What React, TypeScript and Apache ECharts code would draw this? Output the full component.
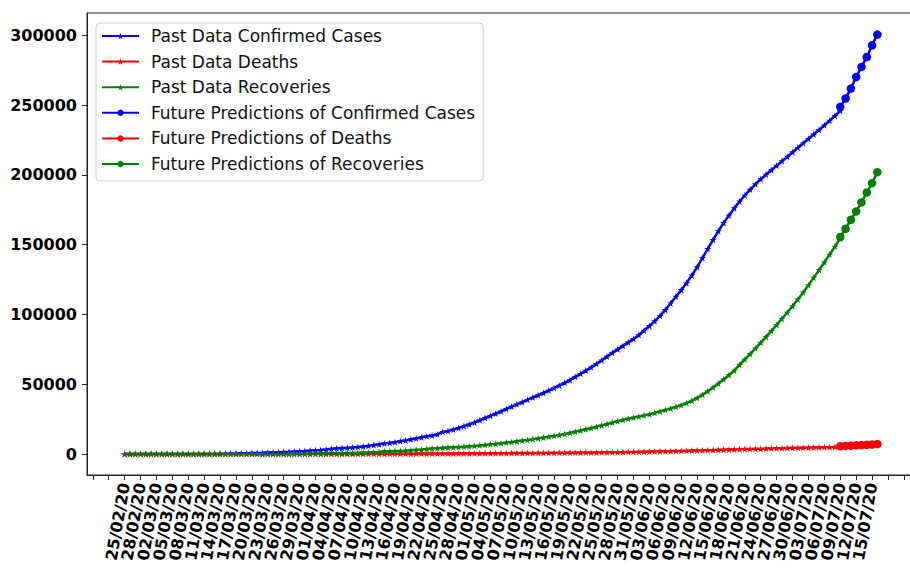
import React, { useEffect, useRef } from "react";
import * as echarts from "echarts";

// Day offsets are counted from 25/02/20 (day 0).
const tickLabels = [
  "25/02/20", "28/02/20", "02/03/20", "05/03/20", "08/03/20", "11/03/20", "14/03/20", "17/03/20",
  "20/03/20", "23/03/20", "26/03/20", "29/03/20", "01/04/20", "04/04/20", "07/04/20", "10/04/20",
  "13/04/20", "16/04/20", "19/04/20", "22/04/20", "25/04/20", "28/04/20", "01/05/20", "04/05/20",
  "07/05/20", "10/05/20", "13/05/20", "16/05/20", "19/05/20", "22/05/20", "25/05/20", "28/05/20",
  "31/05/20", "03/06/20", "06/06/20", "09/06/20", "12/06/20", "15/06/20", "18/06/20", "21/06/20",
  "24/06/20", "27/06/20", "30/06/20", "03/07/20", "06/07/20", "09/07/20", "12/07/20", "15/07/20",
];
const labelStep = 3;
const extraTicks = [-6, -3, 144, 147];
const yTicks = [0, 50000, 100000, 150000, 200000, 250000, 300000];

// Observed daily totals, day 0 .. day 135
const pastConfirmed = [
  0, 0, 0, 2, 2, 4, 4, 5, 5, 6,
  7, 16, 19, 20, 21, 28, 31, 53, 136, 187,
  241, 302, 453, 495, 646, 803, 887, 991, 1057, 1235,
  1495, 1597, 1717, 1938, 2118, 2421, 2686, 2818, 3157, 3766,
  4035, 4263, 4489, 4695, 5038, 5374, 5837, 6383, 6919, 7481,
  7993, 8418, 9216, 9749, 10513, 11155, 11940, 12723, 13328, 14079,
  15800, 16500, 17500, 18700, 19900, 21200, 22600, 24200, 25800, 27400,
  29000, 30600, 32300, 34000, 35600, 37200, 38900, 40500, 42100, 43800,
  45500, 47300, 49100, 51000, 53000, 55300, 57500, 59800, 62100, 64600,
  67200, 69800, 72500, 75000, 77500, 80000, 82500, 85300, 88500, 91800,
  95200, 99000, 103300, 108000, 112800, 117600, 122500, 128000, 134000, 140500,
  147000, 153500, 159800, 165600, 171000, 176200, 181000, 185400, 189500, 193400,
  197000, 200300, 203500, 206700, 209900, 213100, 216300, 219500, 222700, 225900,
  229100, 232300, 235600, 238900, 242300, 246000,
];
const pastDeaths = [
  0, 0, 0, 0, 0, 0, 0, 0, 0, 0,
  0, 0, 0, 0, 0, 0, 0, 0, 0, 0,
  0, 1, 2, 2, 3, 3, 6, 7, 9, 11,
  12, 14, 18, 20, 26, 34, 41, 50, 54, 57,
  61, 63, 66, 71, 80, 91, 107, 128, 143, 159,
  176, 192, 209, 224, 236, 253, 275, 292, 312, 327,
  345, 369, 385, 399, 417, 440, 462, 479, 508, 532,
  564, 585, 611, 636, 659, 685, 706, 737, 770, 803,
  834, 859, 882, 913, 939, 971, 1017, 1067, 1101, 1133,
  1167, 1225, 1260, 1317, 1395, 1483, 1543, 1621, 1688, 1770,
  1838, 1935, 2002, 2067, 2172, 2255, 2356, 2463, 2551, 2632,
  2729, 2839, 2975, 3093, 3195, 3275, 3382, 3501, 3590, 3695,
  3755, 3903, 4035, 4118, 4167, 4304, 4395, 4473, 4551, 4619,
  4712, 4762, 4839, 4922, 5058, 5197,
];
const pastRecovered = [
  0, 0, 0, 0, 0, 0, 0, 0, 0, 0,
  0, 1, 1, 2, 2, 2, 2, 2, 2, 2,
  2, 2, 2, 5, 5, 6, 6, 9, 13, 21,
  25, 50, 60, 80, 120, 140, 170, 220, 340, 460,
  530, 580, 700, 760, 900, 1000, 1100, 1300, 1500, 1900,
  2000, 2100, 2200, 2400, 2700, 3000, 3200, 3600, 4000, 4200,
  4400, 4600, 4800, 5000, 5200, 5500, 5800, 6100, 6500, 6900,
  7300, 7700, 8200, 8600, 9100, 9600, 10100, 10600, 11200, 11800,
  12400, 13000, 13700, 14400, 15200, 16000, 16800, 17700, 18600, 19500,
  20500, 21500, 22500, 23500, 24500, 25300, 26100, 26900, 27700, 28500,
  29500, 30500, 31600, 32600, 33800, 35000, 36500, 38200, 40200, 42500,
  45000, 47700, 50500, 53500, 56600, 59800, 64000, 67800, 71700, 75700,
  79800, 84000, 88200, 92500, 96900, 101400, 106000, 110800, 115800, 121000,
  126400, 131900, 137400, 143000, 148700, 154500,
];

// Model output, day 135 .. day 142
const futureStart = 135;
const futureConfirmed = [248800, 254800, 261900, 270200, 277400, 284500, 292900, 300600];
const futureDeaths = [5600, 5800, 6000, 6200, 6400, 6600, 6800, 7100];
const futureRecovered = [155500, 161400, 167900, 173800, 180300, 187400, 194100, 202000];

const BLUE = "#0000ff";
const RED = "#ff0000";
const GREEN = "#008000";
const STAR =
  "path://M50,0 L61.8,35.3 L100,35.3 L69.1,57.1 L80.9,92.7 L50,70.9 L19.1,92.7 L30.9,57.1 L0,35.3 L38.2,35.3 Z";

const toPoints = (values: number[], start: number) => values.map((v, i) => [start + i, v]);

function lineSeries(name: string, values: number[], start: number, color: string, future: boolean) {
  return {
    name,
    type: "line",
    data: toPoints(values, start),
    symbol: future ? "circle" : STAR,
    symbolSize: future ? 8.5 : 7,
    showSymbol: true,
    showAllSymbol: true,
    lineStyle: { color, width: 2.5 },
    itemStyle: { color },
    emphasis: { disabled: true },
  };
}

export default function App() {
  const ref = useRef<HTMLDivElement>(null);

  useEffect(() => {
    if (!ref.current) return;
    const chart = echarts.init(ref.current, null, { renderer: "svg" });
    const labelDays = tickLabels.map((_, i) => i * labelStep);
    // unlabeled ticks sit on both ends of the dated ones
    const tickDays = [...extraTicks.slice(0, 2), ...labelDays, ...extraTicks.slice(2)];
    const labelFor = (v: number) => {
      const i = Math.round(v / labelStep);
      return v >= 0 && i < tickLabels.length ? tickLabels[i] : "";
    };
    const font = "DejaVu Sans";

    chart.setOption({
      animation: false,
      backgroundColor: "#ffffff",
      grid: {
        left: 87,
        top: 13,
        width: 828,
        bottom: 93,
        show: true,
        borderColor: "#222",
        borderWidth: 1,
        backgroundColor: "transparent",
      },
      legend: {
        orient: "vertical",
        left: 96,
        top: 23,
        itemWidth: 37,
        itemHeight: 8,
        itemGap: 5.6,
        padding: [3, 8, 7, 5],
        backgroundColor: "#ffffff",
        borderColor: "#d0d0d0",
        borderWidth: 1,
        borderRadius: 4,
        textStyle: {
          fontFamily: font,
          fontSize: 17,
          color: "#111",
          lineHeight: 20,
          padding: [0, 0, 0, 7],
        },
        data: [
          "Past Data Confirmed Cases",
          "Past Data Deaths",
          "Past Data Recoveries",
          "Future Predictions of Confirmed Cases",
          "Future Predictions of Deaths",
          "Future Predictions of Recoveries",
        ],
      },
      xAxis: {
        type: "value",
        min: -7.1,
        max: 149.1,
        splitLine: { show: false },
        axisLine: { show: true, onZero: false, lineStyle: { color: "#222", width: 1 } },
        axisTick: {
          show: true,
          length: 5,
          customValues: tickDays,
          lineStyle: { color: "#222" },
        },
        axisLabel: {
          customValues: tickDays,
          hideOverlap: false,
          rotate: 80,
          margin: 8,
          fontFamily: font,
          fontWeight: "bold",
          fontSize: 16,
          color: "#000",
          formatter: labelFor,
        },
      },
      yAxis: {
        type: "value",
        min: -15050,
        max: 316050,
        splitLine: { show: false },
        axisLine: { show: true, onZero: false, lineStyle: { color: "#222", width: 1 } },
        axisTick: {
          show: true,
          length: 5,
          customValues: yTicks,
          lineStyle: { color: "#222" },
        },
        axisLabel: {
          customValues: yTicks,
          showMinLabel: true,
          showMaxLabel: true,
          margin: 10,
          fontFamily: font,
          fontWeight: "bold",
          fontSize: 16,
          color: "#000",
          formatter: (v: number) => String(v),
        },
      },
      series: [
        lineSeries("Past Data Confirmed Cases", pastConfirmed, 0, BLUE, false),
        lineSeries("Past Data Deaths", pastDeaths, 0, RED, false),
        lineSeries("Past Data Recoveries", pastRecovered, 0, GREEN, false),
        lineSeries("Future Predictions of Confirmed Cases", futureConfirmed, futureStart, BLUE, true),
        lineSeries("Future Predictions of Deaths", futureDeaths, futureStart, RED, true),
        lineSeries("Future Predictions of Recoveries", futureRecovered, futureStart, GREEN, true),
      ],
    });

    return () => chart.dispose();
  }, []);

  return (
    <div
      style={{
        position: "absolute",
        left: 0,
        top: 0,
        width: 910,
        height: 568,
        overflow: "hidden",
        background: "#fff",
      }}
    >
      <div ref={ref} style={{ width: 930, height: 568 }} />
    </div>
  );
}
